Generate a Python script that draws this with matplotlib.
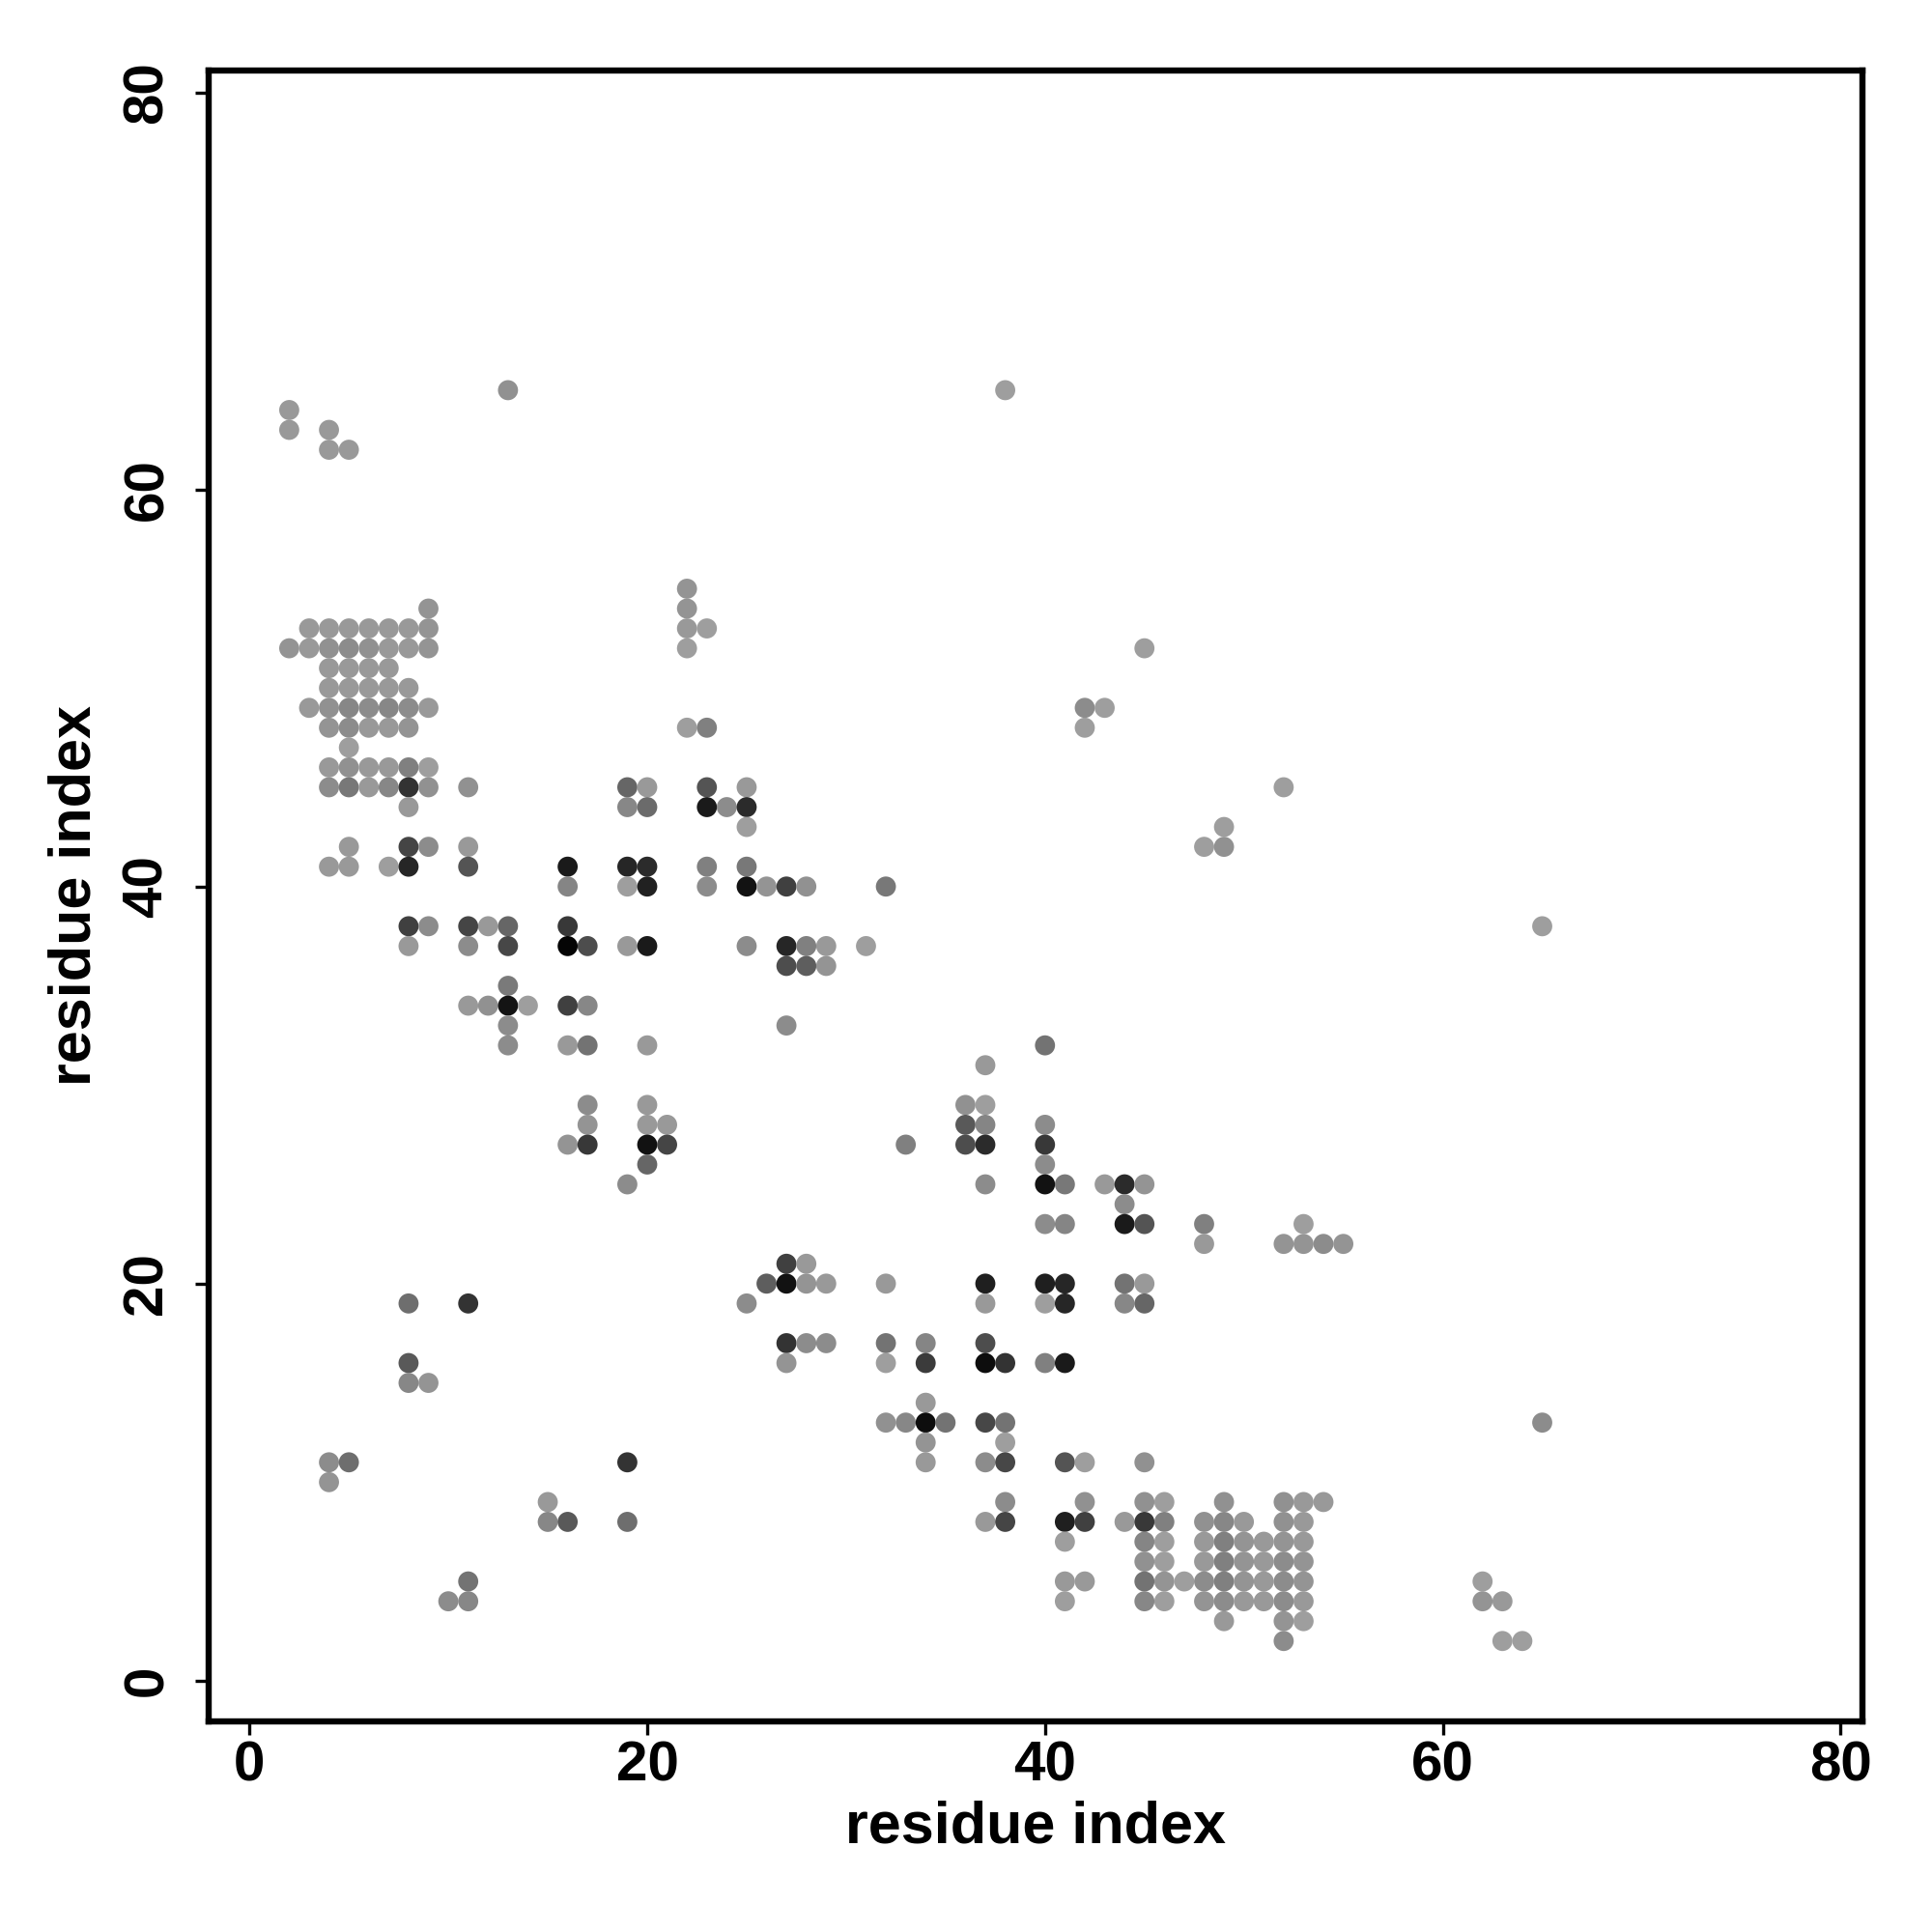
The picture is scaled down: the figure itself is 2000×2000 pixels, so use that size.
import numpy as np
import matplotlib
matplotlib.use("Agg")
from matplotlib import pyplot as plt

# contact map: residue i (x), residue j (y), grey level of the dot (0 = black)
res_i = [
    13, 38,
    2,
    2, 4,
    4, 5,
    22,
    9, 22,
    3, 4, 5, 6, 7, 8, 9, 22, 23,
    2, 3, 4, 5, 6, 7, 8, 9, 22, 45,
    4, 5, 6, 7,
    4, 5, 6, 7, 8,
    3, 4, 5, 6, 7, 8, 9, 42, 43,
    4, 5, 6, 7, 8, 22, 23, 42,
    5,
    4, 5, 6, 7, 8, 9,
    4, 5, 6, 7, 8, 9, 11, 19, 20, 23, 25, 52,
    8, 19, 20, 23, 24, 25,
    25, 49,
    5, 8, 9, 11, 48, 49,
    4, 5, 7, 8, 11, 16, 19, 20, 23, 25,
    16, 19, 20, 23, 25, 26, 27, 28, 32,
    8, 9, 11, 12, 13, 16, 65,
    8, 11, 13, 16, 17, 19, 20, 25, 27, 28, 29, 31,
    27, 28, 29,
    13,
    11, 12, 13, 14, 16, 17,
    13, 27,
    13, 16, 17, 20, 40,
    37,
    17, 20, 36, 37,
    17, 20, 21, 36, 37, 40,
    16, 17, 20, 21, 33, 36, 37, 40,
    20, 40,
    19, 37, 40, 41, 43, 44, 45,
    44,
    40, 41, 44, 45, 48, 53,
    48, 52, 53, 54, 55,
    27, 28,
    26, 27, 28, 29, 32, 37, 40, 41, 44, 45,
    8, 11, 25, 37, 40, 41, 44, 45,
    27, 28, 29, 32, 34, 37,
    8, 27, 32, 34, 37, 38, 40, 41,
    8, 9,
    34,
    32, 33, 34, 35, 37, 38, 65,
    34, 38,
    4, 5, 19, 34, 37, 38, 41, 42, 45,
    4,
    15, 38, 42, 45, 46, 49, 52, 53, 54,
    15, 16, 19, 37, 38, 41, 42, 44, 45, 46, 48, 49, 50, 52, 53,
    41, 45, 46, 48, 49, 50, 51, 52, 53,
    45, 46, 48, 49, 50, 51, 52, 53,
    11, 41, 42, 45, 46, 47, 48, 49, 50, 51, 52, 53, 62,
    10, 11, 41, 45, 46, 48, 49, 50, 51, 52, 53, 62, 63,
    49, 52, 53,
    52, 63, 64,
]

res_j = [
    65, 65,
    64,
    63, 63,
    62, 62,
    55,
    54, 54,
    53, 53, 53, 53, 53, 53, 53, 53, 53,
    52, 52, 52, 52, 52, 52, 52, 52, 52, 52,
    51, 51, 51, 51,
    50, 50, 50, 50, 50,
    49, 49, 49, 49, 49, 49, 49, 49, 49,
    48, 48, 48, 48, 48, 48, 48, 48,
    47,
    46, 46, 46, 46, 46, 46,
    45, 45, 45, 45, 45, 45, 45, 45, 45, 45, 45, 45,
    44, 44, 44, 44, 44, 44,
    43, 43,
    42, 42, 42, 42, 42, 42,
    41, 41, 41, 41, 41, 41, 41, 41, 41, 41,
    40, 40, 40, 40, 40, 40, 40, 40, 40,
    38, 38, 38, 38, 38, 38, 38,
    37, 37, 37, 37, 37, 37, 37, 37, 37, 37, 37, 37,
    36, 36, 36,
    35,
    34, 34, 34, 34, 34, 34,
    33, 33,
    32, 32, 32, 32, 32,
    31,
    29, 29, 29, 29,
    28, 28, 28, 28, 28, 28,
    27, 27, 27, 27, 27, 27, 27, 27,
    26, 26,
    25, 25, 25, 25, 25, 25, 25,
    24,
    23, 23, 23, 23, 23, 23,
    22, 22, 22, 22, 22,
    21, 21,
    20, 20, 20, 20, 20, 20, 20, 20, 20, 20,
    19, 19, 19, 19, 19, 19, 19, 19,
    17, 17, 17, 17, 17, 17,
    16, 16, 16, 16, 16, 16, 16, 16,
    15, 15,
    14,
    13, 13, 13, 13, 13, 13, 13,
    12, 12,
    11, 11, 11, 11, 11, 11, 11, 11, 11,
    10,
    9, 9, 9, 9, 9, 9, 9, 9, 9,
    8, 8, 8, 8, 8, 8, 8, 8, 8, 8, 8, 8, 8, 8, 8,
    7, 7, 7, 7, 7, 7, 7, 7, 7,
    6, 6, 6, 6, 6, 6, 6, 6,
    5, 5, 5, 5, 5, 5, 5, 5, 5, 5, 5, 5, 5,
    4, 4, 4, 4, 4, 4, 4, 4, 4, 4, 4, 4, 4,
    3, 3, 3,
    2, 2, 2,
]

grey = [
    .57, .62,
    .60,
    .60, .60,
    .60, .60,
    .58,
    .58, .58,
    .60, .60, .60, .60, .60, .60, .58, .60, .62,
    .58, .60, .57, .55, .57, .60, .60, .58, .62, .62,
    .60, .60, .60, .60,
    .60, .60, .60, .60, .60,
    .60, .57, .53, .55, .53, .55, .60, .55, .62,
    .58, .55, .60, .60, .58, .62, .50, .62,
    .62,
    .60, .57, .60, .60, .50, .62,
    .55, .47, .60, .53, .20, .57, .57, .40, .60, .33, .60, .62,
    .60, .53, .42, .10, .55, .17,
    .62, .62,
    .60, .27, .55, .60, .62, .57,
    .60, .60, .62, .15, .33, .10, .15, .17, .50, .47,
    .52, .62, .13, .55, .07, .58, .25, .57, .47,
    .25, .55, .27, .60, .40, .22, .62,
    .60, .55, .28, .02, .30, .60, .10, .55, .15, .50, .60, .62,
    .30, .37, .58,
    .48,
    .60, .57, .08, .62, .25, .53,
    .55, .55,
    .55, .60, .45, .60, .45,
    .60,
    .55, .60, .57, .62,
    .58, .60, .60, .35, .52, .55,
    .58, .22, .07, .27, .50, .30, .17, .22,
    .40, .55,
    .55, .55, .07, .47, .60, .17, .58,
    .55,
    .55, .52, .10, .33, .50, .62,
    .60, .58, .58, .55, .58,
    .25, .60,
    .37, .07, .58, .60, .60, .12, .12, .15, .45, .60,
    .43, .20, .55, .60, .62, .15, .53, .40,
    .20, .55, .55, .45, .52, .30,
    .35, .58, .62, .23, .05, .20, .50, .10,
    .53, .58,
    .60,
    .57, .53, .05, .45, .28, .45, .55,
    .58, .62,
    .55, .43, .20, .60, .55, .28, .33, .62, .57,
    .58,
    .60, .55, .57, .57, .62, .57, .57, .60, .60,
    .53, .35, .43, .60, .27, .12, .25, .60, .22, .50, .57, .53, .60, .57, .60,
    .62, .52, .62, .60, .50, .58, .60, .58, .60,
    .57, .62, .60, .50, .58, .60, .55, .58,
    .45, .60, .60, .45, .58, .62, .55, .50, .58, .60, .55, .58, .62,
    .55, .53, .62, .53, .62, .58, .55, .60, .60, .55, .60, .58, .60,
    .60, .58, .62,
    .55, .62, .62,
]

x_ticks = [0, 20, 40, 60, 80]
y_ticks = [0, 20, 40, 60, 80]

plt.rcParams['font.family'] = ['Liberation Sans', 'DejaVu Sans']
plt.rcParams['font.weight'] = 'bold'

fig = plt.figure(figsize=(10, 10), dpi=200)
ax = fig.add_axes([0.108, 0.109, 0.856, 0.8545])

cols = [(g, g, g) for g in grey]
ax.scatter(res_i, res_j, s=56, c=cols, edgecolors='none')

ax.set_xlim(-2.05, 81.1)
ax.set_ylim(-2.05, 81.1)
ax.set_xticks(x_ticks)
ax.set_yticks(y_ticks)
ax.set_xticklabels([str(t) for t in x_ticks], fontsize=21, fontweight='bold')
ax.set_yticklabels([str(t) for t in y_ticks], fontsize=21, fontweight='bold',
                   rotation=90, va='center')
ax.tick_params(axis='both', direction='out', length=5, width=1.2, color='black')
ax.tick_params(axis='x', pad=2)
ax.tick_params(axis='y', pad=8)
for sp in ax.spines.values():
    sp.set_linewidth(2.3)

ax.set_xlabel('residue index', fontsize=22, fontweight='bold', labelpad=3)
ax.set_ylabel('residue index', fontsize=22, fontweight='bold', labelpad=7)

fig.savefig('out.png', dpi=200, facecolor='white')
